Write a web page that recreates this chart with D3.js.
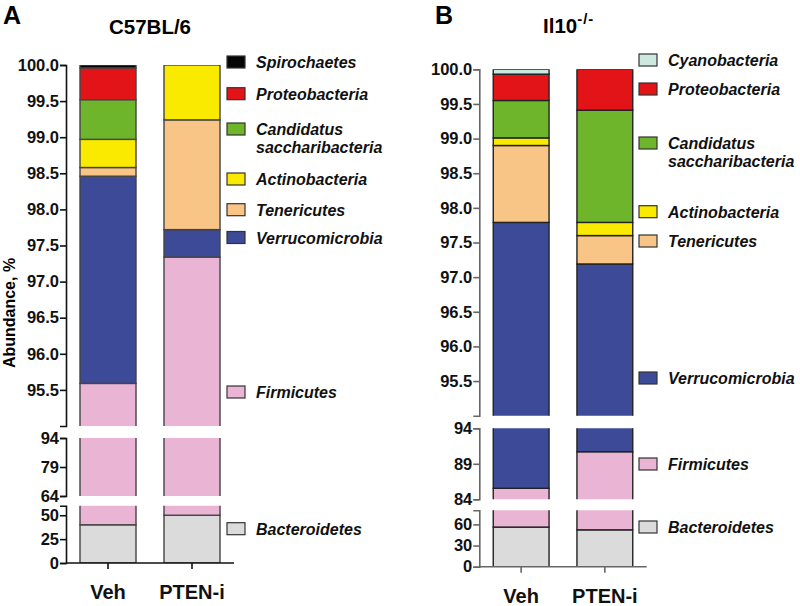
<!DOCTYPE html>
<html><head><meta charset="utf-8">
<script src="https://cdn.jsdelivr.net/npm/d3@7"></script>
<style>
body{margin:0;background:#fff;}
text{font-family:"Liberation Sans",Arial,Helvetica,sans-serif;}
</style></head>
<body><div id="chart"></div>
<script>
// ---- data ----
const groups = ["Veh", "PTEN-i"];
const phyla = ["Bacteroidetes","Firmicutes","Verrucomicrobia","Tenericutes","Actinobacteria","Candidatus saccharibacteria","Proteobacteria","Spirochaetes","Cyanobacteria"];
const colors = ["#dcdbdc","#eab4d4","#3d4a98","#f9c586","#faea00","#6fb52c","#e31418","#050505","#cde8de"];
// % abundance per phylum (same order as phyla)
const c57Veh  = [40.0, 55.59, 2.87, 0.12, 0.39, 0.55, 0.44, 0.04, 0];
const c57Pten = [50.0, 47.34, 0.38, 1.52, 0.76, 0, 0, 0, 0];
const il10Veh  = [56.2, 29.35, 12.24, 1.11, 0.11, 0.54, 0.38, 0, 0.07];
const il10Pten = [52.3, 38.4, 6.49, 0.41, 0.19, 1.62, 0.59, 0, 0];
// axis segments (broken axis)
const aTopTicks = [95.5, 96.0, 96.5, 97.0, 97.5, 98.0, 98.5, 99.0, 99.5, 100.0];
const aMidTicks = [64, 79, 94];
const aBotTicks = [0, 25, 50];
const bTopTicks = [95.5, 96.0, 96.5, 97.0, 97.5, 98.0, 98.5, 99.0, 99.5, 100.0];
const bMidTicks = [84, 89, 94];
const bBotTicks = [0, 30, 60];
const legendA = ["Spirochaetes","Proteobacteria","Candidatus saccharibacteria","Actinobacteria","Tenericutes","Verrucomicrobia","Firmicutes","Bacteroidetes"];
const legendB = ["Cyanobacteria","Proteobacteria","Candidatus saccharibacteria","Actinobacteria","Tenericutes","Verrucomicrobia","Firmicutes","Bacteroidetes"];

// ---- layout ----
const W = 800, H = 606;
const svg = d3.select("#chart").append("svg").attr("width", W).attr("height", H);
const color = d3.scaleOrdinal().domain(phyla).range(colors);

function panel(cfg) {
  const g = svg.append("g");
  const rows = cfg.groups.map((grp, i) => {
    const o = {group: grp};
    phyla.forEach((p, j) => o[p] = cfg.values[i][j]);
    return o;
  });
  const series = d3.stack().keys(phyla)(rows);
  const x = d3.scaleBand().domain(cfg.groups).range(cfg.xRange).paddingInner(1/3).paddingOuter(1/6);

  cfg.segments.forEach((seg, si) => {
    const y = d3.scaleLinear().domain(seg.domain).range(seg.range);
    const cid = cfg.id + "clip" + si;
    svg.append("defs").append("clipPath").attr("id", cid)
      .append("rect").attr("x", cfg.xRange[0] + 2).attr("width", cfg.xRange[1] - cfg.xRange[0])
      .attr("y", seg.range[1]).attr("height", seg.range[0] - seg.range[1]);
    const sg = g.append("g").attr("clip-path", `url(#${cid})`);
    series.forEach(s => {
      sg.selectAll(null).data(s.filter(d => d[1] - d[0] > 0)).join("rect")
        .attr("x", d => x(d.data.group))
        .attr("width", x.bandwidth())
        .attr("y", d => y(d[1]))
        .attr("height", d => y(d[0]) - y(d[1]))
        .attr("fill", color(s.key))
        .attr("stroke", cfg.barStroke)
        .attr("stroke-width", 1.4);
    });
    const ax = g.append("g").attr("transform", `translate(${cfg.xRange[0]},0)`)
      .call(d3.axisLeft(y).tickValues(seg.ticks).tickSize(6).tickSizeOuter(6).tickPadding(1)
        .tickFormat(seg.fmt));
    ax.selectAll("path,line").attr("stroke", cfg.axisColor).attr("stroke-width", 1.6);
    ax.selectAll("text").attr("fill", "#111").style("font-size", "16.5px").style("font-weight", "bold");
  });

  // x axis
  const xa = g.append("g").attr("transform", `translate(0,${cfg.segments[2].range[0]})`)
    .call(d3.axisBottom(x).tickSize(6).tickSizeOuter(0).tickPadding(16));
  xa.select(".domain").attr("d", `M${cfg.xRange[0]},0H${cfg.xRange[1]}`);
  xa.selectAll("path,line").attr("stroke", cfg.axisColor).attr("stroke-width", 1.6);
  xa.selectAll("text").attr("fill", "#111").style("font-size", "20px").style("font-weight", "bold");

  // legend
  const lg = g.append("g");
  cfg.legend.forEach((name, i) => {
    const cy = cfg.legendY[i];
    lg.append("rect").attr("x", cfg.legendX).attr("y", cy - 6).attr("width", 18).attr("height", 12)
      .attr("fill", color(name)).attr("stroke", "#333").attr("stroke-width", 1.2);
    const parts = name.split(" ");
    parts.forEach((p, k) => {
      lg.append("text").attr("x", cfg.legendX + 29).attr("y", cy + 6 + k * 17.7)
        .text(p).style("font-size", "16px").style("font-weight", "bold").style("font-style", "italic")
        .attr("fill", "#111");
    });
  });
}

const fmt1 = d3.format(".1f"), fmt0 = d3.format("d");

panel({
  id: "A", groups, values: [c57Veh, c57Pten], xRange: [66, 234],
  barStroke: "#444", axisColor: "#111",
  segments: [
    {domain: [95, 100], range: [426, 65], ticks: aTopTicks, fmt: fmt1},
    {domain: [64, 94], range: [496, 438], ticks: aMidTicks, fmt: fmt0},
    {domain: [0, 60], range: [563, 505.7], ticks: aBotTicks, fmt: fmt0}
  ],
  legend: legendA, legendX: 227, legendY: [62, 93.7, 129, 179, 209.7, 237.5, 392, 528.7]
});
panel({
  id: "B", groups, values: [il10Veh, il10Pten], xRange: [479.3, 646.7],
  barStroke: "#222", axisColor: "#666",
  segments: [
    {domain: [95, 100], range: [415.7, 69.3], ticks: bTopTicks, fmt: fmt1},
    {domain: [84, 94], range: [499.3, 428.3], ticks: bMidTicks, fmt: fmt0},
    {domain: [0, 80], range: [566.7, 510.3], ticks: bBotTicks, fmt: fmt0}
  ],
  legend: legendB, legendX: 639, legendY: [60, 89, 143, 211.7, 241, 378, 464, 527]
});

// titles & labels
svg.append("text").attr("x", 3).attr("y", 24).text("A").style("font-size", "25px").style("font-weight", "bold");
svg.append("text").attr("x", 435).attr("y", 24).text("B").style("font-size", "25px").style("font-weight", "bold");
svg.append("text").attr("x", 150).attr("y", 34).attr("text-anchor", "middle").text("C57BL/6")
  .style("font-size", "20.5px").style("font-weight", "bold");
const tB = svg.append("text").attr("x", 543).attr("y", 33).style("font-size", "20.5px").style("font-weight", "bold");
tB.append("tspan").text("Il10");
tB.append("tspan").attr("dy", -9).style("font-size", "15px").attr("letter-spacing", 1).text("-/-");
svg.append("text").attr("transform", "translate(15,313) rotate(-90)").attr("text-anchor", "middle")
  .text("Abundance, %").style("font-size", "16px").style("font-weight", "bold");
</script>
</body></html>
